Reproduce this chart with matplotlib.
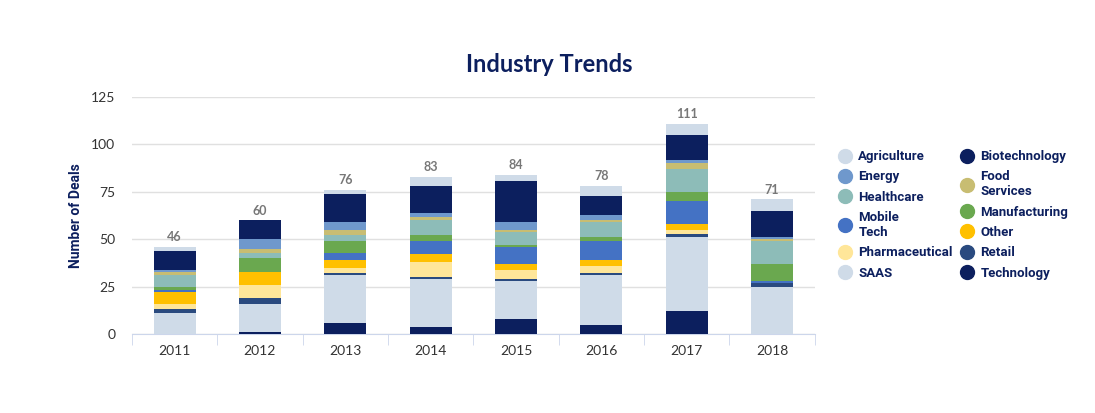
import matplotlib
matplotlib.use("Agg")
import matplotlib.pyplot as plt
from matplotlib.lines import Line2D
import numpy as np

years = ["2011", "2012", "2013", "2014", "2015", "2016", "2017", "2018"]
series_names = ["Agriculture", "Biotechnology", "Energy", "Food\nServices", "Healthcare",
                "Manufacturing", "Mobile\nTech", "Other", "Pharmaceutical", "Retail", "SAAS", "Technology"]
agriculture = [2, 0, 2, 5, 3, 5, 6, 6]
biotechnology = [10, 10, 15, 14, 22, 10, 13, 14]
energy = [1, 5, 4, 2, 4, 3, 2, 1]
food_services = [2, 2, 3, 2, 1, 1, 3, 1]
healthcare = [6, 3, 3, 8, 7, 8, 12, 12]
manufacturing = [2, 7, 6, 3, 1, 2, 5, 9]
mobile_tech = [1, 0, 4, 7, 9, 10, 12, 1]
other = [6, 7, 4, 4, 3, 3, 3, 0]
pharmaceutical = [3, 7, 3, 8, 5, 4, 2, 0]
retail = [2, 3, 1, 1, 1, 1, 2, 2]
saas = [11, 15, 25, 25, 20, 26, 39, 25]
technology = [0, 1, 6, 4, 8, 5, 12, 0]
totals = [46, 60, 76, 83, 84, 78, 111, 71]

values = [agriculture, biotechnology, energy, food_services, healthcare, manufacturing,
          mobile_tech, other, pharmaceutical, retail, saas, technology]
colors = ["#cfdbe8", "#0c1f5e", "#6f98cc", "#c8bd72", "#8dbcb8", "#6aa84f",
          "#4472c4", "#ffc000", "#ffe699", "#2a4a7f", "#cfdbe8", "#0c1f5e"]

fig = plt.figure(figsize=(10.95, 4.13), dpi=100)
ax = fig.add_axes([0.1205, 0.191, 0.744 - 0.1205, 0.765 - 0.191])
x = np.arange(len(years))
bottom = np.zeros(len(years))
for name, vals, c in list(zip(series_names, values, colors))[::-1]:
    ax.bar(x, vals, 0.49, bottom=bottom, color=c, label=name, zorder=3)
    bottom += np.array(vals)
for xi, t in zip(x, totals):
    ax.text(xi, t + 2, str(t), ha="center", va="bottom", fontsize=9, color="#777777",
            fontweight="bold", family="Lato")

ax.set_ylim(0, 125)
ax.set_xlim(-0.5, len(years) - 0.5)
ax.set_yticks([0, 25, 50, 75, 100, 125])
ax.set_xticks(x)
ax.set_xticklabels(years)
ax.set_xticks(np.arange(-0.5, len(years), 1), minor=True)
ax.tick_params(axis="x", which="major", length=0, pad=8, labelsize=10, colors="#333333")
ax.tick_params(axis="x", which="minor", length=8, color="#ccd6eb")
ax.tick_params(axis="y", length=0, labelsize=10, colors="#333333", pad=12)
for lab in ax.get_xticklabels() + ax.get_yticklabels():
    lab.set_family("Lato")
ax.grid(axis="y", color="#e0e0e0", linewidth=1, zorder=0)
for s in ["top", "right", "left"]:
    ax.spines[s].set_visible(False)
ax.spines["bottom"].set_color("#ccd6eb")
ax.set_ylabel("Number of Deals", fontsize=10, fontweight="bold", color="#0c1f5e",
              family="Roboto", labelpad=6)
fig.text(0.502, 0.843, "Industry Trends", ha="center", va="center", fontsize=17,
         fontweight="bold", color="#0c1f5e", family="Lato")

# row-wise legend order in two columns
order = list(range(0, 12, 2)) + list(range(1, 12, 2))
handles = [Line2D([], [], marker="o", linestyle="none", markersize=10,
                  markerfacecolor=colors[i], markeredgecolor=colors[i]) for i in order]
labels = [series_names[i] for i in order]
leg = fig.legend(handles, labels, loc="upper left",
                 bbox_to_anchor=(0.755, 0.665), ncol=2, frameon=False,
                 prop={"family": "Roboto", "weight": "bold", "size": 9.5},
                 handlelength=1.0, columnspacing=0.6,
                 labelspacing=0.55, handletextpad=0.5)
for t in leg.get_texts():
    t.set_color("#0c1f5e")
fig.savefig("out.png", dpi=100)
